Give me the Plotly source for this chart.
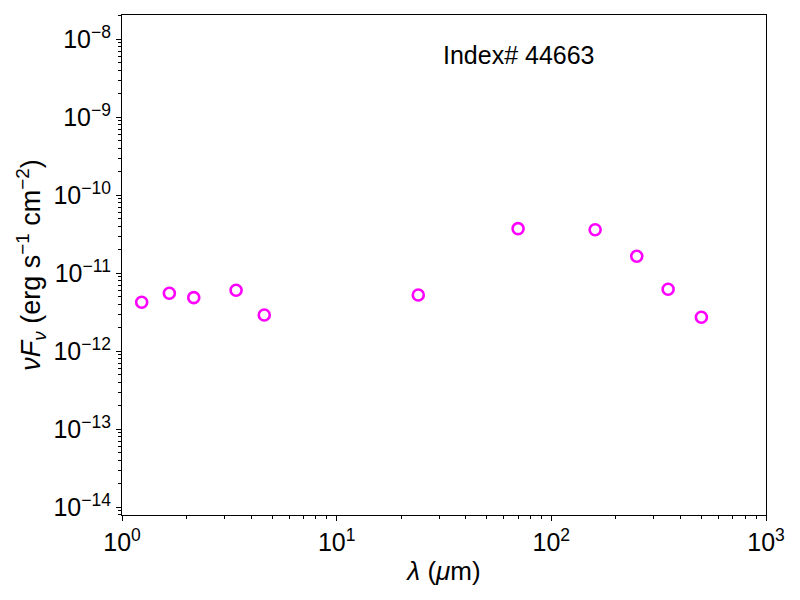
import numpy as np
import plotly.graph_objs as go

# SED photometry (2MASS, WISE, MIPS, PACS, SPIRE)
wavelength = [1.235, 1.662, 2.159, 3.4, 4.6, 24.0, 70.0, 160.0, 250.0, 350.0, 500.0]
nu_f_nu = [4.25e-12, 5.55e-12, 4.87e-12, 6.05e-12, 2.92e-12, 5.27e-12,
           3.73e-11, 3.62e-11, 1.65e-11, 6.23e-12, 2.73e-12]
label = "Index# 44663"

x_exp = [0, 1, 2, 3]
y_exp = [-14, -13, -12, -11, -10, -9, -8]


def pow_label(p):
    s = str(p).replace("-", "\u2212")
    return "10<sup>" + s + "</sup>"


def minor_vals(lo, hi):
    out = []
    for k in range(lo, hi + 1):
        for m in range(2, 10):
            out.append(m * 10.0 ** k)
    return out


fig = go.Figure()
fig.add_trace(go.Scatter(x=wavelength, y=nu_f_nu, mode="markers",
                         marker=dict(symbol="circle-open", size=11,
                                     color="#ff00ff",
                                     line=dict(width=2.6, color="#ff00ff")),
                         showlegend=False))

fig.add_annotation(text=label, x=0.617, y=0.92, xref="paper", yref="paper",
                   showarrow=False, font=dict(size=25, color="black"),
                   xanchor="center", yanchor="middle")

axis_common = dict(type="log", showgrid=False, zeroline=False,
                   showline=True, linecolor="black", linewidth=1.2,
                   mirror=True, ticks="outside", ticklen=5, tickwidth=1,
                   tickcolor="black", automargin=False,
                   tickfont=dict(size=25, color="black"))

fig.update_layout(
    width=800, height=600,
    margin=dict(l=122, r=34, t=15, b=85),
    paper_bgcolor="white", plot_bgcolor="white",
    font=dict(family="Liberation Sans, Arial, sans-serif", color="black"),
    xaxis=dict(axis_common, range=[0, 3],
               tickvals=[10.0 ** p for p in x_exp],
               ticktext=[pow_label(p) for p in x_exp],
               minor=dict(tickvals=minor_vals(0, 2), ticks="outside",
                          ticklen=3, tickcolor="black"),
               title=dict(text="<i>\u03bb</i> (<i>\u03bc</i>m)",
                          font=dict(size=26), standoff=6)),
    yaxis=dict(axis_common, range=[-14.099, -7.689],
               tickvals=[10.0 ** p for p in y_exp],
               ticktext=[pow_label(p) for p in y_exp],
               minor=dict(tickvals=minor_vals(-15, -8), ticks="outside",
                          ticklen=3, tickcolor="black"),
               title=dict(text="<i>\u03bdF<sub>\u03bd</sub></i> (erg s<sup>\u22121</sup> cm<sup>\u22122</sup>)",
                          font=dict(size=27), standoff=4)),
)

# page body has a default margin; drop it so the figure sits at the window origin
fig.write_html("out.html", config={"displayModeBar": False},
               post_script="document.body.style.margin='0';")
